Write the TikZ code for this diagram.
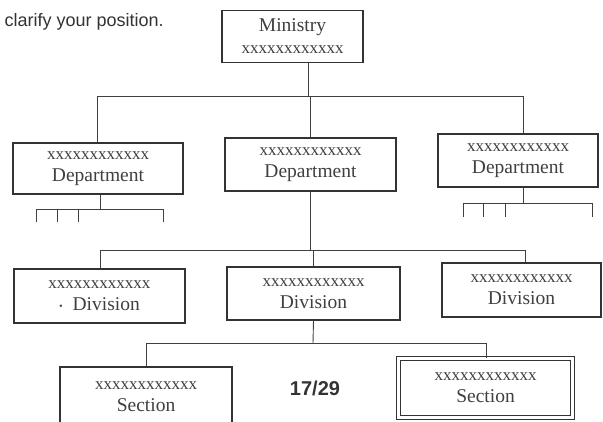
\documentclass[tikz,border=0pt]{standalone}
\usepackage{fontspec}
\setmainfont{Liberation Serif}
\newfontfamily\sansf{Liberation Sans}
\newcommand{\xrow}{{\fontsize{17}{22}\selectfont xxxxxxxxxxxx}}
\begin{document}
\begin{tikzpicture}[x=1pt,y=-1pt,
  box/.style={draw=black!80, line width=1.1pt, fill=white, inner sep=0pt, align=center,
    font=\fontsize{19.5}{22}\selectfont, text=black!75},
  conn/.style={draw=black!75, line width=0.9pt},
  dbox/.style={box, double=white, double distance=2.2pt, line width=1pt}]
\clip (0,0) rectangle (603,421);
\fill[white] (0,0) rectangle (603,421);
\node[anchor=base west, font=\sansf\fontsize{18}{20}\selectfont, text=black!80] (cap) at (1,26) {clarify your position.};

\node[box, minimum width=141pt, minimum height=52pt] (mini) at (292.5,36.5) {Ministry\\\xrow};
\node[box, minimum width=170pt, minimum height=51pt] (ldep) at (98,168.5) {\xrow\\Department};
\node[box, minimum width=171pt, minimum height=53pt] (mdep) at (310.5,164.5) {\xrow\\Department};
\node[box, minimum width=160pt, minimum height=53pt] (rdep) at (518,160.5) {\xrow\\Department};
\node[box, minimum width=171pt, minimum height=54pt] (ldiv) at (99.5,296) {\xrow\\\raisebox{3pt}{\tiny$\bullet$}\ \ Division};
\node[box, minimum width=173pt, minimum height=53pt] (mdiv) at (313.5,293.5) {\xrow\\Division};
\node[box, minimum width=159pt, minimum height=54pt] (rdiv) at (521.5,290) {\xrow\\Division};
\node[box, minimum width=172pt, minimum height=60pt, text depth=0pt] (lsec) at (146,397) {\xrow\\Section};
\node[dbox, minimum width=174pt, minimum height=59pt] (rsec) at (485.5,388) {\xrow\\Section};
\node[font=\sansf\bfseries\fontsize{20}{22}\selectfont, text=black!80] (pg) at (315,388) {17/29};

% level 1 bus
\coordinate (b1) at (308,96);
\coordinate (bl) at (97,96);
\coordinate (br) at (523,96);
\draw[conn] (b1 |- mini.south) -- (b1);
\draw[conn] (bl |- ldep.north) -- (bl) -- (br) -- (br |- rdep.north);
\draw[conn] (mdep.north) -- (mdep.north |- b1);

% left department stubs
\coordinate (l0) at (100,209);
\coordinate (la) at (36,209);
\coordinate (lb) at (57,209);
\coordinate (lc) at (78,209);
\coordinate (ld) at (163,209);
\draw[conn] (l0 |- ldep.south) -- (l0);
\draw[conn] (la) -- (ld);
\foreach \p in {la,lb,lc,ld} \draw[conn] (\p) -- ++(0,13);

% right department stubs
\coordinate (r0) at (523,203);
\coordinate (ra) at (463,203);
\coordinate (rb) at (483,203);
\coordinate (rc) at (505,203);
\coordinate (rd) at (592,203);
\draw[conn] (r0 |- rdep.south) -- (r0);
\draw[conn] (ra) -- (rd);
\foreach \p in {ra,rb,rc,rd} \draw[conn] (\p) -- ++(0,14);

% level 2 bus
\coordinate (d0) at (313,250);
\coordinate (dl) at (100,250);
\coordinate (dr) at (525,250);
\draw[conn] (mdep.south) -- (mdep.south |- d0);
\draw[conn] (dl |- ldiv.north) -- (dl) -- (dr) -- (dr |- rdiv.north);
\draw[conn] (mdiv.north) -- (mdiv.north |- d0);

% level 3 bus
\coordinate (s0) at (313,343);
\coordinate (sl) at (146,343);
\coordinate (sr) at (486,343);
\draw[conn] (mdiv.south) -- (s0);
\draw[conn] (sl |- lsec.north) -- (sl) -- (sr) -- (sr |- rsec.north);
\end{tikzpicture}
\end{document}
